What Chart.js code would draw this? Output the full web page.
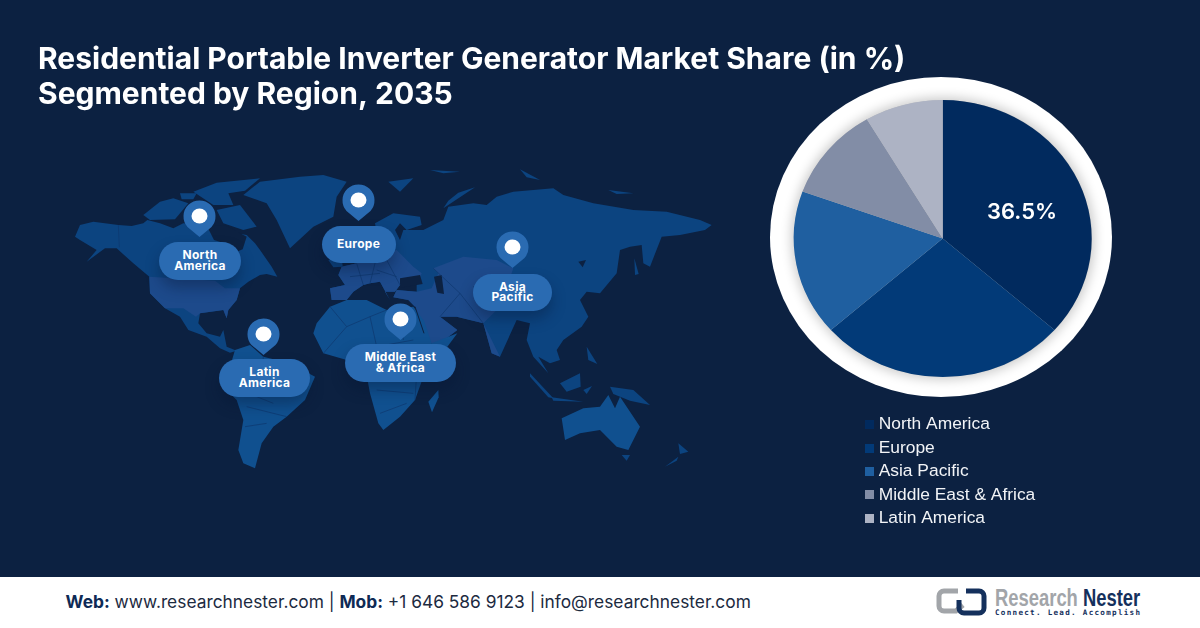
<!DOCTYPE html>
<html><head><meta charset="utf-8">
<script src="https://cdn.jsdelivr.net/npm/chart.js@4/dist/chart.umd.min.js"></script>
<style>
html,body{margin:0;padding:0;background:#0c2141;width:1200px;height:628px;overflow:hidden}
#stage{position:relative;width:1200px;height:628px;overflow:hidden}
#stage>*{position:absolute}
#ring{left:770px;top:77px;width:342px;height:320px;border-radius:50%;background:#fff}
#ringInner{left:793.7px;top:100px;width:298px;height:277px;border-radius:50%;background:#bbb;box-shadow:0 0 11px 3px rgba(0,0,0,.2)}
#map{left:60px;top:160px;width:670px;height:320px}
canvas{left:0;top:0;z-index:5}
.pill{background:#2a6bb2;color:#fff;border-radius:19px;display:flex;align-items:center;justify-content:center;text-align:center;font:700 12px/10.4px Inter,sans-serif;letter-spacing:.3px;box-shadow:0 8px 14px rgba(5,20,50,.35);z-index:3;box-sizing:border-box;padding-bottom:1px}
.pin{z-index:3;overflow:visible}
#foot{left:0;top:577px;width:1200px;height:51px;background:#fff;z-index:2}
#contact{left:65.5px;top:592px;font:400 17.35px/20px Inter,sans-serif;color:#1c2a3f;z-index:3;white-space:nowrap}
#contact b{color:#0e2a55;font-weight:700}
#brand{left:995px;top:586px;font:700 23px/24px "Liberation Sans",sans-serif;color:#a2a5a9;z-index:3;white-space:nowrap;transform:scaleX(.8);transform-origin:0 0}
#brand b{color:#14305c}
#tag{left:995px;top:608px;font:700 7.6px/10px "DejaVu Sans Mono",monospace;letter-spacing:1.28px;color:#14305c;z-index:3;white-space:nowrap}
#logo{left:936px;top:588px;z-index:3}
</style></head>
<body><div id="stage">
<div id="ring"></div><div id="ringInner"></div>
<svg id="map" viewBox="0 0 2010 960" preserveAspectRatio="none">
<g fill="#0c4480">
<!-- Americas -->
<path d="M45 230 60 195 100 185 175 195 215 198 250 190 262 180 300 190 340 205 370 190 440 195 470 225 500 215 560 225 585 250 600 270 635 320 652 350 620 342 600 345 565 365 540 385 530 420 505 450 500 475 490 450 420 460 415 490 440 520 480 530 490 510 500 560 530 572 510 578 480 565 440 530 385 510 360 470 315 445 270 400 268 350 220 310 170 265 135 265 80 305 110 270 60 240Z"/>
<path d="M250 165 300 125 340 115 385 130 345 178 270 180Z"/><path d="M400 95 470 68 600 55 555 92 505 100 520 135 460 135Z"/><path d="M470 150 540 135 590 200 550 210 490 190Z"/><path d="M360 100 410 100 400 118 365 118Z"/>
<path d="M550 105 600 65 720 50 790 45 860 65 830 110 820 170 760 200 690 265 650 180 620 130Z"/>
<path d="M525 570 570 555 610 590 690 610 765 650 735 720 680 770 640 800 605 850 585 925 550 910 535 870 550 780 530 720 490 680 510 620Z" fill="#10508f"/>
<path d="M268 350 465 362 495 385 540 385 530 420 505 450 500 475 490 450 420 460 408 470 370 445 315 445 270 400Z" fill="#1d4a8b"/>
<path d="M490 195 505 200 560 230 548 268 520 280 500 252 462 240 442 200Z" fill="#0c2141"/>
<g transform="translate(720,0)">
<!-- Eurasia -->
<path d="M90 385 135 375 115 345 125 320 170 310 230 290 250 280 235 250 225 190 280 160 360 170 365 195 320 210 300 190 285 210 300 240 310 210 370 210 430 180 445 140 520 130 560 135 590 110 640 95 760 85 790 105 880 130 1000 150 1100 155 1200 180 1235 195 1215 210 1140 225 1085 230 1050 320 1030 310 1025 255 990 260 960 270 950 340 900 400 860 395 840 420 865 470 845 500 790 540 770 570 780 600 750 610 715 590 745 640 700 590 680 540 690 490 650 480 600 590 575 580 550 490 470 470 420 470 472 510 420 550 380 550 345 440 325 420 280 412 290 390 350 395 350 375 300 375 285 395 255 395 270 420 240 365 210 370 190 375 160 395 140 420 95 420Z"/>
<path d="M125 320 170 310 230 290 250 280 290 270 340 320 365 340 350 375 300 375 285 395 255 395 270 420 240 365 210 370 190 375 160 395 140 420 95 420 90 385 135 375 115 345Z" fill="#1d4a8b"/>
<path d="M400 325 490 290 590 300 640 325 600 440 550 490 600 590 575 580 550 490 470 470 420 470 472 510 420 550 380 550 345 440 325 420 280 412 290 390 350 395 395 385 415 340Z" fill="#1d4a8b"/>
<path d="M300 355 360 345 368 372 300 383Z" fill="#0c2141"/><path d="M402 350 425 345 432 402 412 398Z" fill="#0c2141"/>
<path d="M85 300 125 288 128 320 100 322Z"/><path d="M1003 295 1016 342 1005 345Z"/><path d="M835 305 858 300 848 322Z" fill="#0c2141"/>
<!-- Africa -->
<path d="M50 490 90 440 140 420 200 420 260 450 340 440 372 482 395 550 472 520 420 590 370 650 345 720 300 770 250 810 235 790 210 700 195 620 140 600 70 580 40 520Z" fill="#10508f"/>
<path d="M385 725 415 690 416 712 396 757Z" fill="#10508f"/>
<!-- Islands -->
<path d="M430 145 525 82 475 98 445 122Z"/><path d="M265 65 340 55 300 95Z"/><path d="M390 30 480 35 430 40Z"/><path d="M660 28 720 60 680 52Z"/><path d="M925 90 1000 100 950 102Z"/>
<path d="M690 640 760 715 745 712 690 650Z"/><path d="M755 712 850 725 760 722Z"/><path d="M780 670 840 640 842 680 800 695Z"/><path d="M860 560 892 612 865 600Z"/><path d="M850 690 876 678 860 702Z"/><path d="M930 680 1000 690 1050 735 990 722 940 702Z"/>
<path d="M785 775 850 745 900 740 925 705 945 745 960 710 1020 800 985 870 950 860 900 810 840 820 795 840Z" fill="#10508f"/>
<path d="M965 885 990 885 980 902Z"/><path d="M1135 850 1165 875 1140 882Z"/><path d="M1135 890 1095 920 1130 902Z"/>
</g></g>
<g fill="none" stroke="#0d366c" stroke-width="2" transform="translate(720,0)">
<path d="M90 440 140 500 70 580M140 500 210 470 260 450M210 470 230 560 195 620M230 560 340 540M300 440 310 540M260 610 350 640 345 720M230 690 340 700M240 760 320 730"/>
<path d="M170 310 190 375M230 290 210 370M230 330 290 350M260 300 300 375M150 350 240 340M400 325 480 400 550 490M480 400 420 470M520 380 600 440"/>
<path d="M345 440 372 520" stroke="#0c2141" stroke-width="3"/></g>
<g fill="none" stroke="#0d366c" stroke-width="2">
<path d="M175 195 178 262M610 590 600 700M560 740 680 770M555 800 620 790M540 690 640 730"/></g>
</svg>

<svg class="pin" style="left:183px;top:200px" width="33" height="38" viewBox="0 0 33 38"><path d="M16.5 37 4.5 27a16 16 0 1 1 24 0Z" fill="#2a6bb2"/><ellipse cx="16.5" cy="16" rx="8" ry="7.6" fill="#fff"/></svg>
<svg class="pin" style="left:341.5px;top:184px" width="33" height="38" viewBox="0 0 33 38"><path d="M16.5 37 4.5 27a16 16 0 1 1 24 0Z" fill="#2a6bb2"/><ellipse cx="16.5" cy="16" rx="8" ry="7.6" fill="#fff"/></svg>
<svg class="pin" style="left:496px;top:231px" width="33" height="38" viewBox="0 0 33 38"><path d="M16.5 37 4.5 27a16 16 0 1 1 24 0Z" fill="#2a6bb2"/><ellipse cx="16.5" cy="16" rx="8" ry="7.6" fill="#fff"/></svg>
<svg class="pin" style="left:247px;top:318px" width="33" height="38" viewBox="0 0 33 38"><path d="M16.5 37 4.5 27a16 16 0 1 1 24 0Z" fill="#2a6bb2"/><ellipse cx="16.5" cy="16" rx="8" ry="7.6" fill="#fff"/></svg>
<svg class="pin" style="left:384px;top:303px" width="33" height="38" viewBox="0 0 33 38"><path d="M16.5 37 4.5 27a16 16 0 1 1 24 0Z" fill="#2a6bb2"/><ellipse cx="16.5" cy="16" rx="8" ry="7.6" fill="#fff"/></svg>
<div class="pill" style="left:159px;top:242px;width:82px;height:38px">North<br>America</div>
<div class="pill" style="left:321.5px;top:226px;width:74px;height:37px">Europe</div>
<div class="pill" style="left:473px;top:274px;width:79px;height:37px">Asia<br>Pacific</div>
<div class="pill" style="left:219px;top:359px;width:91px;height:38px">Latin<br>America</div>
<div class="pill" style="left:345px;top:344px;width:111px;height:38px">Middle East<br>&amp; Africa</div>

<div id="foot"></div>
<div id="contact"><b>Web:</b> www.researchnester.com | <b>Mob:</b> +1 646 586 9123 | info@researchnester.com</div>
<svg id="logo" width="52" height="28" viewBox="0 0 52 28" fill="none" stroke-width="5">
<path d="M22 3H8a5 5 0 0 0-5 5v10a5 5 0 0 0 5 5h12l7-6" stroke="#a2a5a9"/>
<path d="M30 3h13a5 5 0 0 1 5 5v12a5 5 0 0 1-5 5H28a5 5 0 0 1-5-5v-8" stroke="#14305c"/></svg>
<div id="brand">Research <b>Nester</b></div>
<div id="tag">Connect. Lead. Accomplish</div>
<canvas id="c" width="1200" height="628"></canvas>
</div>
<script>
const regions = ["North America","Europe","Asia Pacific","Middle East & Africa","Latin America"];
const shares = [36.5,27.0,17.0,11.0,8.5];
const sliceColors = ["#012a5e","#023a78","#1f5fa0","#828da6","#adb3c4"];
const titleLines = ["Residential Portable Inverter Generator Market Share (in %)","Segmented by Region, 2035"];
const labelled = 0;
const pieSquash = 277/298;

function swatch(color){
  const s=document.createElement('canvas');s.width=9;s.height=9;
  const x=s.getContext('2d');x.fillStyle=color;x.fillRect(0,0,9,9);return s;
}
function place(box,left,top,w,h){
  box.update(w,h,{left:0,right:0,top:0,bottom:0});
  box.left=left;box.top=top;box.right=left+box.width;box.bottom=top+box.height;
}
const freeBoxes={
  id:'freeBoxes',
  beforeLayout(chart){
    [chart.legend,chart.titleBlock].forEach(b=>{ if(b) Chart.layouts.removeBox(chart,b); });
  },
  afterLayout(chart){
    place(chart.titleBlock,38,42,1100,90);
    place(chart.legend,862,410,300,140);
  },
  beforeDatasetsDraw(chart){
    const a=chart.chartArea,c=chart.ctx,cy=(a.top+a.bottom)/2;
    c.save();c.translate(0,cy);c.scale(1,pieSquash);c.translate(0,-cy);
  },
  afterDatasetsDraw(chart){ chart.ctx.restore(); },
  afterDraw(chart){
    chart.titleBlock.draw(chart.ctx);
    chart.legend.draw(chart.ctx);
    const c=chart.ctx;c.save();c.fillStyle='#fff';c.font='600 22px Inter, sans-serif';
    c.textAlign='center';c.textBaseline='middle';
    c.fillText(shares[labelled].toFixed(1)+'%',1022,212.5);c.restore();
  }
};
new Chart(document.getElementById('c'),{
  type:'pie',
  data:{labels:regions,datasets:[{data:shares,backgroundColor:sliceColors,borderWidth:0}]},
  plugins:[freeBoxes],
  options:{
    responsive:false,animation:false,devicePixelRatio:1,events:[],
    layout:{padding:{left:793.7,right:108.3,top:89.5,bottom:240.5}},
    plugins:{
      tooltip:{enabled:false},
      title:{display:true,text:titleLines,align:'start',color:'#fff',padding:0,
        font:{family:'Inter, sans-serif',size:30,weight:'700',lineHeight:1.167}},
      legend:{display:true,position:'left',align:'start',
        labels:{color:'#f2f4f7',boxWidth:2,boxHeight:9,padding:6,usePointStyle:true,pointStyleWidth:2,
          font:{family:'"Liberation Sans", Arial, sans-serif',size:17.4},
          generateLabels(){return regions.map((t,i)=>({text:t,fillStyle:sliceColors[i],strokeStyle:sliceColors[i],lineWidth:0,pointStyle:swatch(sliceColors[i]),hidden:false,index:i,fontColor:'#f2f4f7'}));}
        }}
    }
  }
});
</script>
</body></html>
